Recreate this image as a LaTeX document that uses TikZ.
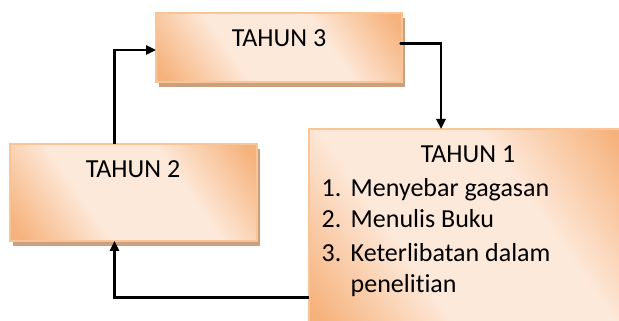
\documentclass[tikz,border=0pt]{standalone}
\usepackage{fontspec}
\setmainfont{Carlito}[Ligatures=NoCommon]
\usetikzlibrary{arrows.meta}
\definecolor{edgeor}{HTML}{F6B27C}
\definecolor{lightor}{HTML}{FDE9DA}
\definecolor{bordor}{HTML}{F9C597}
\definecolor{shadowc}{HTML}{C9A080}
\pgfdeclarehorizontalshading{wordgrad}{100bp}{color(0bp)=(edgeor); color(18bp)=(edgeor); color(38bp)=(lightor); color(62bp)=(lightor); color(82bp)=(edgeor); color(100bp)=(edgeor)}
\tikzset{
  boxstyle/.style={draw=bordor, line width=1.5pt, shading=wordgrad, shading angle=35, inner sep=0pt, outer sep=0pt},
  conn/.style={draw=black, line width=2.4pt, -{Triangle[length=10pt,width=9pt]}},
  lbl/.style={font=\fontsize{26}{32}\selectfont, inner sep=0pt}
}
\begin{document}
\begin{tikzpicture}[x=1pt,y=1pt]
\useasboundingbox (0,0) rectangle (619,321);
\clip (0,0) rectangle (619,321);
% shadows
\fill[shadowc] (159,233.5) rectangle (405,302.5);
\fill[shadowc] (13,74.5) rectangle (260,171.5);
% boxes
\node[boxstyle, minimum width=246pt, minimum height=69pt] (box3) at (279,273.5) {};
\node[boxstyle, minimum width=247pt, minimum height=97pt] (box2) at (133.5,128.5) {};
\node[boxstyle, minimum width=321pt, minimum height=201pt] (box1) at (469.5,91.5) {};
% texts
\node[lbl, anchor=mid] (t3) at (279,277) {TAHUN 3};
\node[lbl, anchor=mid] (t2) at (133,146) {TAHUN 2};
\node[lbl, anchor=mid] (t1) at (468,161) {TAHUN 1};
\node[lbl, anchor=mid west] (n1) at (321.5,127) {1.};
\node[lbl, anchor=mid west] (i1) at (350.5,127) {Menyebar gagasan};
\node[lbl, anchor=mid west] (n2) at (321.5,96) {2.};
\node[lbl, anchor=mid west] (i2) at (350.5,96) {Menulis Buku};
\node[lbl, anchor=mid west] (n3) at (321.5,62) {3.};
\node[lbl, anchor=mid west] (i3) at (350.5,62) {Keterlibatan dalam};
\node[lbl, anchor=mid west] (i4) at (350.5,31) {penelitian};
% connectors
\coordinate (s3) at ([xshift=-1.5pt,yshift=4pt]box3.east);
\draw[conn, line cap=round] (s3) -- (s3 -| 441,0) -- (441,0 |- box1.north);
\draw[conn] (box2.north -| 114.5,0) -- (114.5,0 |- 0,271) -- (box3.west |- 0,271);
\draw[conn] (box1.west |- 0,23.3) -- (114.5,23.3) -- (114.5,0 |- box2.south);
\end{tikzpicture}
\end{document}
